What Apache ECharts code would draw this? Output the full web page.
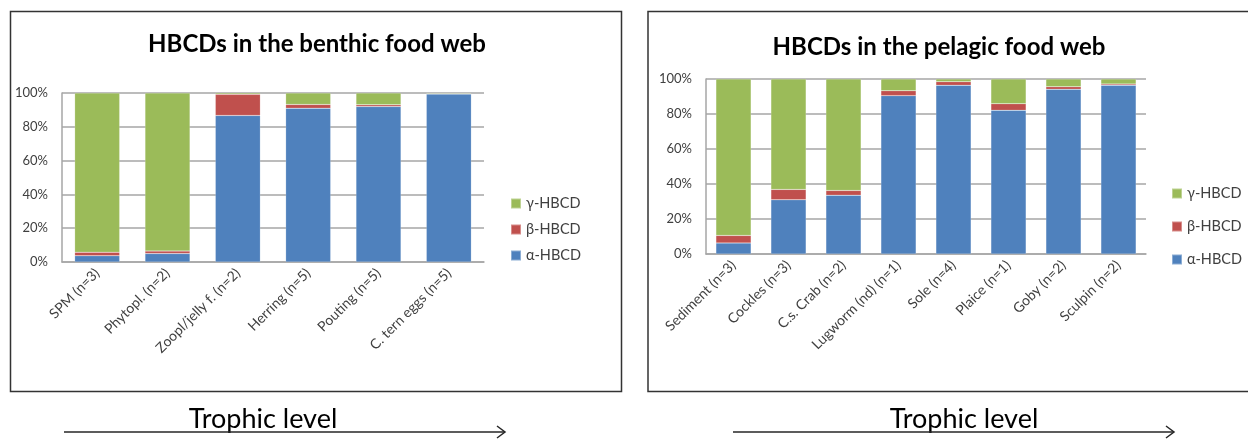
<!DOCTYPE html>
<html>
<head>
<meta charset="utf-8">
<script src="https://cdn.jsdelivr.net/npm/echarts@6/dist/echarts.min.js"></script>
<style>
  html, body { margin: 0; padding: 0; background: #fff; }
  #main { width: 1248px; height: 440px; }
</style>
</head>
<body>
<div id="main"></div>
<script>
// benthic food web
const benthicCats = ['SPM (n=3)', 'Phytopl. (n=2)', 'Zoopl/jelly f. (n=2)', 'Herring (n=5)', 'Pouting (n=5)', 'C. tern eggs (n=5)']
const benthicAlpha = [3.7, 5.0, 86.7, 91.0, 92.0, 99.4]
const benthicBeta = [2.1, 1.5, 12.5, 2.2, 1.0, 0.2]
const benthicGamma = [94.2, 93.5, 0.8, 6.8, 7.0, 0.4]

// pelagic food web
const pelagicCats = ['Sediment (n=3)', 'Cockles (n=3)', 'C.s. Crab (n=2)', 'Lugworm (nd) (n=1)', 'Sole (n=4)', 'Plaice (n=1)', 'Goby (n=2)', 'Sculpin (n=2)']
const pelagicAlpha = [6.3, 31.0, 33.6, 90.5, 96.4, 82.1, 94.1, 96.4]
const pelagicBeta = [4.3, 5.9, 2.7, 2.8, 2.1, 3.8, 1.5, 0.7]
const pelagicGamma = [89.4, 63.1, 63.7, 6.7, 1.5, 14.1, 4.4, 2.9]

const names = ['α-HBCD', 'β-HBCD', 'γ-HBCD']
const colors = ['#4f81bd', '#c0504d', '#9bbb59']
const yTicks = [0, 20, 40, 60, 80, 100]

const FONT = 'Lato, "Open Sans", sans-serif'
const gridColor = '#a6a6a6'

function xAxisOf(idx, cats) {
  return {
    type: 'category',
    gridIndex: idx,
    data: cats,
    axisTick: { show: false },
    axisLine: { lineStyle: { color: gridColor, width: 1.5 } },
    axisLabel: { rotate: 45, interval: 0, margin: 9, fontSize: 14, color: '#404040', fontFamily: FONT }
  }
}

function yAxisOf(idx) {
  return {
    type: 'value',
    gridIndex: idx,
    min: yTicks[0],
    max: yTicks[yTicks.length - 1],
    interval: 20,
    axisLine: { show: true, lineStyle: { color: gridColor, width: 1.5 } },
    axisTick: { show: false },
    splitLine: { lineStyle: { color: gridColor, width: 1.5 } },
    axisLabel: { formatter: '{value}%', margin: 14, fontSize: 13, color: '#404040', fontFamily: FONT }
  }
}

function seriesOf(idx, stack, arrs) {
  return arrs.map((d, i) => ({
    name: names[i],
    type: 'bar',
    stack: stack,
    xAxisIndex: idx,
    yAxisIndex: idx,
    barWidth: '64%',
    itemStyle: { color: colors[i], borderColor: 'rgba(255,255,255,0.35)', borderWidth: 0.5 },
    data: d
  }))
}

function legendOf(left, top, gap) {
  return {
    orient: 'vertical',
    left: left,
    top: top,
    itemWidth: 10,
    itemHeight: 10,
    itemGap: gap,
    icon: 'rect',
    selectedMode: false,
    data: names.slice().reverse(),
    textStyle: { fontSize: 14.5, color: '#404040', fontFamily: FONT }
  }
}

function arrow(x1, x2, y) {
  return [
    { type: 'line', shape: { x1: x1, y1: y, x2: x2, y2: y }, style: { stroke: '#262626', lineWidth: 1.5 } },
    { type: 'polyline', shape: { points: [[x2 - 8, y - 6], [x2, y], [x2 - 8, y + 6]] }, style: { stroke: '#262626', lineWidth: 1.5, fill: null } }
  ]
}

const chart = echarts.init(document.getElementById('main'), null, { renderer: 'canvas' })

const option = {
  animation: false,
  backgroundColor: '#fff',
  title: [
    { text: 'HBCDs in the benthic food web', left: 312, top: 27, textAlign: 'center',
      textStyle: { fontSize: 24, fontWeight: 'bold', color: '#000', fontFamily: FONT } },
    { text: 'HBCDs in the pelagic food web', left: 934, top: 30, textAlign: 'center',
      textStyle: { fontSize: 24, fontWeight: 'bold', color: '#000', fontFamily: FONT } }
  ],
  legend: [legendOf(505, 191, 11), legendOf(1166, 181, 18)],
  grid: [
    { left: 62, top: 93, width: 422, height: 169 },
    { left: 706, top: 79, width: 440, height: 175 }
  ],
  xAxis: [xAxisOf(0, benthicCats), xAxisOf(1, pelagicCats)],
  yAxis: [yAxisOf(0), yAxisOf(1)],
  series: [
    ...seriesOf(0, 'benthic', [benthicAlpha, benthicBeta, benthicGamma]),
    ...seriesOf(1, 'pelagic', [pelagicAlpha, pelagicBeta, pelagicGamma])
  ],
  graphic: [
    { type: 'rect', shape: { x: 10.5, y: 11.5, width: 611, height: 380 }, style: { stroke: '#333', lineWidth: 1.5, fill: null }, z: -1 },
    { type: 'rect', shape: { x: 648, y: 11.5, width: 620, height: 380 }, style: { stroke: '#333', lineWidth: 1.5, fill: null }, z: -1 },
    { type: 'text', x: 263, y: 419, style: { text: 'Trophic level', font: '27px ' + FONT, fill: '#000', textAlign: 'center', textVerticalAlign: 'middle' } },
    { type: 'text', x: 964, y: 419, style: { text: 'Trophic level', font: '27px ' + FONT, fill: '#000', textAlign: 'center', textVerticalAlign: 'middle' } },
    ...arrow(64, 505, 432),
    ...arrow(733, 1174, 432)
  ]
}

chart.setOption(option)
</script>
</body>
</html>
